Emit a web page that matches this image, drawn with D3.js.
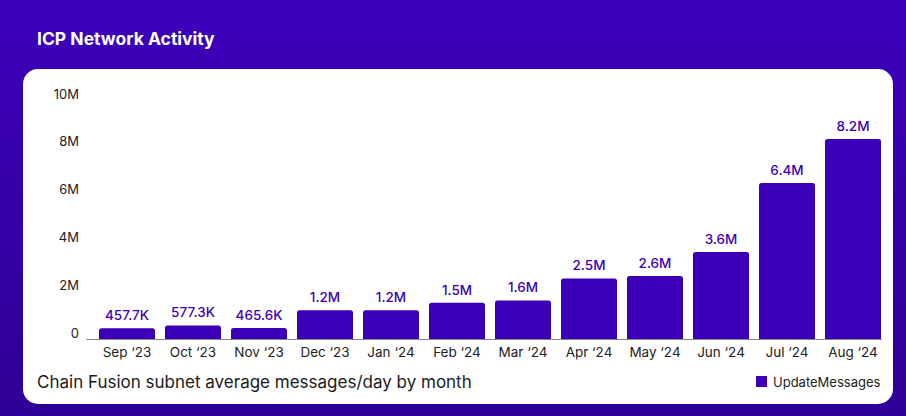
<!DOCTYPE html>
<html><head><meta charset="utf-8">
<script src="https://cdn.jsdelivr.net/npm/d3@7"></script>
<style>html,body{margin:0;padding:0;overflow:hidden;background:#3500a8}</style>
</head><body>
<svg id="c" width="906" height="416"></svg>
<script>
const months = ["Sep ‘23","Oct ‘23","Nov ‘23","Dec ‘23","Jan ‘24","Feb ‘24","Mar ‘24","Apr ‘24","May ‘24","Jun ‘24","Jul ‘24","Aug ‘24"];
const updateMessages = [457700, 577300, 465600, 1200000, 1200000, 1500000, 1600000, 2500000, 2600000, 3580000, 6400000, 8200000];
const yTicks = [0, 2000000, 4000000, 6000000, 8000000, 10000000];
const yTickLabels = ["0","2M","4M","6M","8M","10M"];
const seriesName = "UpdateMessages";

const svg = d3.select("#c");
const defs = svg.append("defs");
const g = defs.append("linearGradient").attr("id","bg").attr("x1",0).attr("y1",0).attr("x2",0).attr("y2",1);
g.append("stop").attr("offset","0%").attr("stop-color","#3c00ba");
g.append("stop").attr("offset","100%").attr("stop-color","#2f0096");
svg.append("rect").attr("width",906).attr("height",416).attr("fill","url(#bg)");

svg.append("text").attr("x",37).attr("y",45).attr("fill","#fff")
  .attr("font-family","Inter, Lato, sans-serif").attr("font-weight",700).attr("font-size",17.5)
  .text("ICP Network Activity");

svg.append("rect").attr("x",23).attr("y",69).attr("width",870).attr("height",335).attr("rx",15).attr("fill","#fff");

const color = "#3b00b8";
const x = d3.scaleBand().domain(months).range([94,886]).paddingInner(10/66).paddingOuter(5/66);
const y = d3.scaleLinear().domain([0,10000000]).range([339.5,95]);
const yLab = d3.scaleLinear().domain([0,10000000]).range([333,94]);

const font = "Inter, Lato, sans-serif";

// y tick labels
svg.append("g").selectAll("text").data(yTicks).join("text")
  .attr("x",79).attr("y",d=>yLab(d)).attr("dy","0.35em").attr("text-anchor","end")
  .attr("font-family",font).attr("font-size",13).attr("fill","#222")
  .text((d,i)=>yTickLabels[i]);

// bars
const r = 2.5;
svg.append("g").selectAll("path").data(updateMessages).join("path")
  .attr("fill",color)
  .attr("d",(d,i)=>{
    const x0 = x(months[i]), w = x.bandwidth(), y0 = y(d), y1 = y(0);
    return `M${x0},${y1}V${y0+r}Q${x0},${y0} ${x0+r},${y0}H${x0+w-r}Q${x0+w},${y0} ${x0+w},${y0+r}V${y1}Z`;
  });

// baseline
svg.append("line").attr("x1",86).attr("x2",882).attr("y1",y(0)).attr("y2",y(0))
  .attr("stroke","#888").attr("stroke-width",1);

// value labels
const fmt = v => v < 1e6 ? (v/1e3).toFixed(1)+"K" : (v/1e6).toFixed(1)+"M";
svg.append("g").selectAll("text").data(updateMessages).join("text")
  .attr("x",(d,i)=>x(months[i])+x.bandwidth()/2).attr("y",d=>y(d)-8)
  .attr("text-anchor","middle").attr("font-family",font).attr("font-weight",500).attr("font-size",13.5).attr("fill",color)
  .text(fmt);

// x axis labels
svg.append("g").selectAll("text").data(months).join("text")
  .attr("x",d=>x(d)+x.bandwidth()/2).attr("y",352).attr("dy","0.35em")
  .attr("text-anchor","middle").attr("font-family",font).attr("font-size",13.5).attr("fill","#222")
  .text(d=>d);

// caption
svg.append("text").attr("x",37).attr("y",382).attr("dy","0.35em")
  .attr("font-family",font).attr("font-size",17).attr("fill","#1a1a1a")
  .text("Chain Fusion subnet average messages/day by month");

// legend
svg.append("rect").attr("x",756).attr("y",376).attr("width",11).attr("height",11).attr("fill",color);
svg.append("text").attr("x",773).attr("y",382).attr("dy","0.35em")
  .attr("font-family",font).attr("font-size",13).attr("fill","#222").text(seriesName);
</script>
</body></html>
